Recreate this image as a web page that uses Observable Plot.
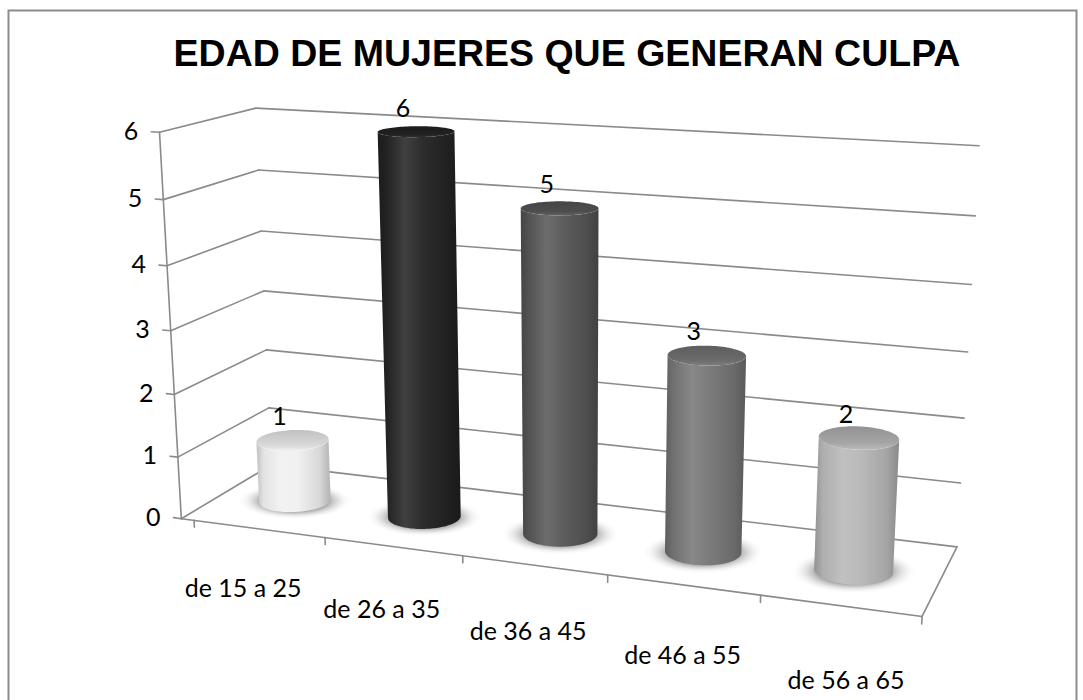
<!DOCTYPE html>
<html>
<head>
<meta charset="utf-8">
<script src="https://cdn.jsdelivr.net/npm/d3@7"></script>
<script src="https://cdn.jsdelivr.net/npm/@observablehq/plot@0.6"></script>
<style>
  html, body { margin: 0; padding: 0; background: #fff; }
  #chart { width: 1083px; height: 700px; }
</style>
</head>
<body>
<div id="chart"></div>
<script>
// ---- data ----
const title = "EDAD DE MUJERES QUE GENERAN CULPA";
const categories = ["de 15 a 25", "de 26 a 35", "de 36 a 45", "de 46 a 55", "de 56 a 65"];
const values = [1, 6, 5, 3, 2];
const yTicks = [0, 1, 2, 3, 4, 5, 6];

// ---- styles ----
const barColors = ["#f0f0f0", "#232323", "#565656", "#767676", "#b7b7b7"];
const gridStroke = "#8a8a8a";
const labelFont = "Lato, 'Open Sans', sans-serif";

// ---- 3D frame: screen anchors of the chart box corners [X, Y, Z, u, v] ----
const frameAnchors = [
  [0,0,0,182,517],[0,6,0,158,133],[0,0,1,270,466],[0,6,1,255,107],
  [5,0,1,956,547],[5,6,1,979,146],[5,0,0,922,615],
  [0,1,1,268,407],[0,3,1,265,290],[0,4,1,262,230],[0,5,1,257,170],
  [5,5,1,974,216],[5,4,1,972,283],[5,2,1,963,417],[5,1,1,960,482],
  [0,1,0,177,456],[0,2,0,173,394],[0,3,0,171,330],[0,4,0,168,265],[0,5,0,162,199],
  [1,0,0,313,536],[2,0,0,453,555],[3,0,0,602,574],[4,0,0,757,595]
];

function fitCamera(pts) {
  const cu = 540, cv = 400, s = 300, n = 11;
  const rows = [], rhs = [];
  for (const [X, Y, Z, u0, v0] of pts) {
    const u = (u0 - cu) / s, v = (v0 - cv) / s;
    rows.push([X, Y, Z, 1, 0, 0, 0, 0, -u * X, -u * Y, -u * Z]); rhs.push(u);
    rows.push([0, 0, 0, 0, X, Y, Z, 1, -v * X, -v * Y, -v * Z]); rhs.push(v);
  }
  const M = Array.from({length: n}, () => new Array(n + 1).fill(0));
  rows.forEach((r, k) => {
    for (let i = 0; i < n; i++) {
      for (let j = 0; j < n; j++) M[i][j] += r[i] * r[j];
      M[i][n] += r[i] * rhs[k];
    }
  });
  for (let c = 0; c < n; c++) {
    let p = c;
    for (let r = c + 1; r < n; r++) if (Math.abs(M[r][c]) > Math.abs(M[p][c])) p = r;
    [M[c], M[p]] = [M[p], M[c]];
    for (let r = 0; r < n; r++) if (r !== c) {
      const f = M[r][c] / M[c][c];
      for (let j = c; j <= n; j++) M[r][j] -= f * M[c][j];
    }
  }
  const p = M.map((row, i) => row[n] / row[i]);
  return (X, Y, Z) => {
    const w = p[8] * X + p[9] * Y + p[10] * Z + 1;
    return [cu + s * (p[0] * X + p[1] * Y + p[2] * Z + p[3]) / w,
            cv + s * (p[4] * X + p[5] * Y + p[6] * Z + p[7]) / w];
  };
}
const camera = fitCamera(frameAnchors);
const zc = 0.48;          // depth of the cylinder row
const projection = d3.geoTransform({
  point(x, y, z) {
    const [u, v] = camera(x, y, z === undefined ? zc : z);
    this.stream.point(u, v);
  }
});

// ---- scales ----
const xBand = Plot.scale({x: {type: "band", domain: categories, range: [0, categories.length]}});
const xc = c => xBand.apply(c) + xBand.bandwidth / 2;
const nX = categories.length;
const yMax = d3.max(yTicks);

const data = categories.map((c, i) => ({cat: c, value: values[i], i}));

// ---- geometry helpers ----
const line = (...pts) => ({type: "LineString", coordinates: pts});
const pt = (x, y, z) => ({type: "Point", coordinates: [x, y, z]});
const R = 0.245, K = 0.8, N = 96;
const circ = (cx, y, t, rr) => [cx + rr * Math.cos(t), y, zc + K * rr * Math.sin(t)];
const ring = (cx, y, rr) => {
  const c = d3.range(N).map(i => circ(cx, y, 2 * Math.PI * i / N, rr));
  c.push(c[0]);
  return {type: "Polygon", coordinates: [c]};
};

const gridLines = [
  ...yTicks.map(t => line([0, t, 1], [nX, t, 1])),         // back wall
  ...yTicks.map(t => line([0, t, 0], [0, t, 1])),          // side wall
  line([0, 0, 0], [0, yMax, 0]),                           // value axis
  ...yTicks.map(t => line([0, t, 0], [-0.06, t, 0])),      // value ticks
  line([0, 0, 0], [nX, 0, 0]), line([nX, 0, 0], [nX, 0, 1]), // floor edges
  ...[...categories.map(c => xBand.apply(c)), nX].map(x => line([x, 0, 0], [x, -0.11, 0]))
];

const shadows = data.map(d => ({geom: ring(xc(d.cat), 0, R * 1.6), fill: "url(#shadow)"}));

const cylParts = [];
for (const d of data) {
  const cx = xc(d.cat);
  let tL = 0, tR = 0, minU = Infinity, maxU = -Infinity;
  for (let i = 0; i < N; i++) {
    const t = 2 * Math.PI * i / N;
    const [u] = camera(...circ(cx, d.value / 2, t, R));
    if (u < minU) { minU = u; tL = t; }
    if (u > maxU) { maxU = u; tR = t; }
  }
  if (tR < tL) tR += 2 * Math.PI;
  const steps = 48;
  const ts = d3.range(steps + 1).map(k => tL + (tR - tL) * k / steps);
  const body = [
    ...ts.map(t => circ(cx, 0, t, R)),
    ...ts.slice().reverse().map(t => circ(cx, d.value, t, R))
  ];
  body.push(body[0]);
  cylParts.push({geom: {type: "Polygon", coordinates: [body]}, fill: `url(#body${d.i})`});
  cylParts.push({geom: ring(cx, d.value, R), fill: `url(#cap${d.i})`});
}

const svg = Plot.plot({
  width: 1083,
  height: 700,
  margin: 0,
  projection,
  color: {type: "identity"},
  style: {background: "white"},
  marks: [
    Plot.frame({stroke: "#8c8c8c", strokeWidth: 2, insetLeft: 8, insetTop: 10, insetRight: 7, insetBottom: -5}),
    Plot.text([title], {text: d => d, frameAnchor: "top", dx: 25, dy: 53, lineAnchor: "middle",
      fontSize: 37.5, fontWeight: "bold", fontFamily: "'Liberation Sans', Arial, sans-serif", fill: "black"}),
    Plot.geo(gridLines, {stroke: gridStroke, strokeWidth: 1.6}),
    Plot.geo(shadows, {geometry: "geom", fill: "fill", stroke: "none"}),
    Plot.geo(cylParts, {geometry: "geom", fill: "fill", stroke: "none"}),
    Plot.text(yTicks, Plot.centroid({geometry: t => pt(-0.06, t, 0), text: d => `${d}`,
      textAnchor: "end", dx: -13, fontSize: 25, fontFamily: labelFont, fill: "black"})),
    Plot.text(data, Plot.centroid({geometry: d => pt(xc(d.cat), d.value, zc), text: d => `${d.value}`,
      dx: -13, dy: -23, fontSize: 25, fontFamily: labelFont, fill: "black"})),
    Plot.text(data, Plot.centroid({geometry: d => pt(xc(d.cat), -1.05, -0.6), text: d => d.cat,
      dx: 46, dy: -45, fontSize: 25, fontFamily: labelFont, fill: "black"}))
  ]
});

// gradients for the shaded cylinders
const shade = (c, a) => a >= 0 ? d3.interpolateRgb(c, "#ffffff")(a) : d3.interpolateRgb(c, "#000000")(-a);
const defs = d3.select(svg).insert("defs", ":first-child");
barColors.forEach((c, i) => {
  const gb = defs.append("linearGradient").attr("id", `body${i}`).attr("x1", 0).attr("x2", 1).attr("y1", 0).attr("y2", 0);
  [[0, -0.2], [0.1, -0.05], [0.33, 0.13], [0.55, 0.04], [0.85, -0.1], [1, -0.25]]
    .forEach(([o, a]) => gb.append("stop").attr("offset", o).attr("stop-color", shade(c, a)));
  const gc = defs.append("linearGradient").attr("id", `cap${i}`).attr("x1", 0).attr("x2", 0).attr("y1", 0).attr("y2", 1);
  [[0, -0.2], [0.7, -0.1], [1, 0.06]]
    .forEach(([o, a]) => gc.append("stop").attr("offset", o).attr("stop-color", shade(c, a)));
});
const gs = defs.append("radialGradient").attr("id", "shadow");
[[0, "#555555", 0.9], [0.6, "#777777", 0.6], [1, "#ffffff", 0]]
  .forEach(([o, c, op]) => gs.append("stop").attr("offset", o).attr("stop-color", c).attr("stop-opacity", op));

document.getElementById("chart").append(svg);
</script>
</body>
</html>
